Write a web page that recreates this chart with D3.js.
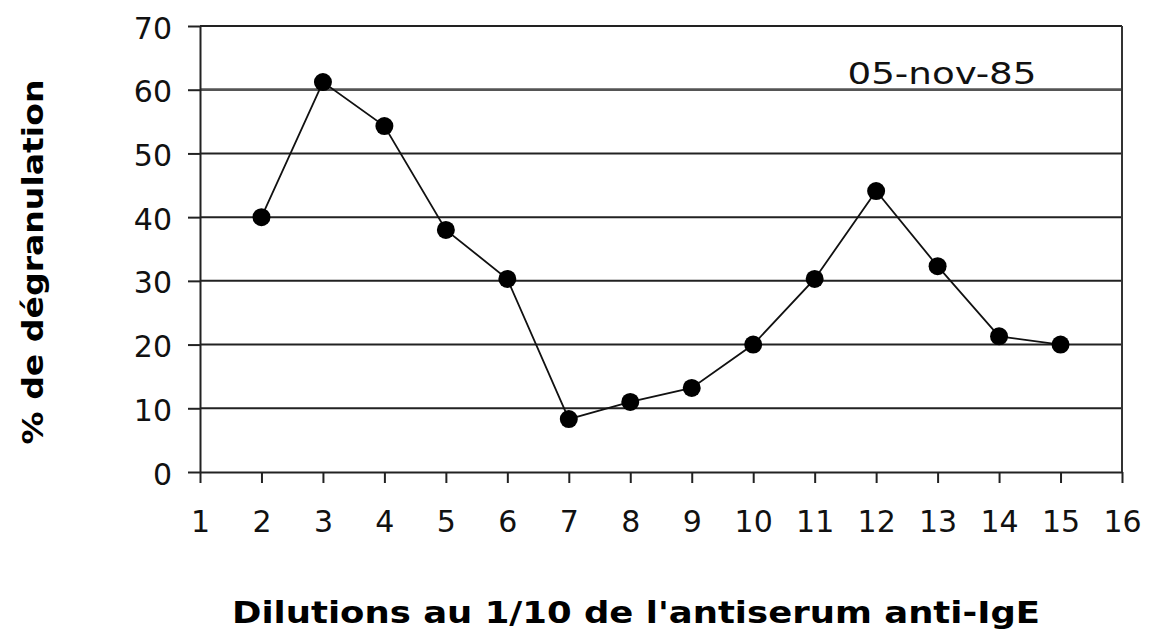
<!DOCTYPE html>
<html>
<head>
<meta charset="utf-8">
<script src="https://cdn.jsdelivr.net/npm/d3@7"></script>
<style>
body { margin: 0; background: #fff; }
text { font-family: "DejaVu Sans", Verdana, sans-serif; }
</style>
</head>
<body>
<div id="chart"></div>
<script>
// Data
var dilutions = [2, 3, 4, 5, 6, 7, 8, 9, 10, 11, 12, 13, 14, 15];
var degranulation = [40, 61.2, 54.3, 38, 30.3, 8.3, 11, 13.2, 20, 30.3, 44.1, 32.3, 21.3, 20];
var xTicks = [1, 2, 3, 4, 5, 6, 7, 8, 9, 10, 11, 12, 13, 14, 15, 16];
var yTicks = [0, 10, 20, 30, 40, 50, 60, 70];
var dateLabel = "05-nov-85";

//Define Margin
var margin = {left: 200, right: 27, top: 26, bottom: 165},
    width = 1149 - margin.left - margin.right,
    height = 637 - margin.top - margin.bottom;

var svg = d3.select("div#chart")
    .append("svg")
    .attr("width", 1149)
    .attr("height", 637)
    .append("g")
    .attr("transform", "translate(" + margin.left + "," + margin.top + ")");

//Define Scales
var xScale = d3.scaleLinear().domain([1, 16]).range([0, width]);
var yScale = d3.scaleLinear().domain([0, 70]).range([height, 0]);

//Gridlines
svg.selectAll(".grid")
    .data(yTicks.filter(function(d) { return d > 0; }))
    .enter().append("line")
    .attr("class", "grid")
    .attr("x1", 0)
    .attr("x2", width)
    .attr("y1", function(d) { return yScale(d); })
    .attr("y2", function(d) { return yScale(d); })
    .attr("stroke", function(d) { return d == 60 ? "#555" : "#222"; })
    .attr("stroke-width", function(d) { return d == 60 ? 2.8 : 2; });

// right border
svg.append("line")
    .attr("x1", width).attr("x2", width)
    .attr("y1", 0).attr("y2", height)
    .attr("stroke", "#333").attr("stroke-width", 2);

//Axes
var xAxis = d3.axisBottom(xScale).tickValues(xTicks).tickSize(11).tickSizeOuter(0).tickPadding(28);
var yAxis = d3.axisLeft(yScale).tickValues(yTicks).tickSize(12).tickSizeOuter(0).tickPadding(16);

var gx = svg.append("g")
    .attr("transform", "translate(0," + height + ")")
    .call(xAxis);
gx.selectAll("line, path").attr("stroke", "#222").attr("stroke-width", 2);
gx.selectAll("text").attr("font-size", "30px").attr("fill", "#111")
    .attr("font-family", "'DejaVu Sans', Verdana, sans-serif");

var gy = svg.append("g").call(yAxis);
gy.selectAll("line, path").attr("stroke", "#222").attr("stroke-width", 2);
gy.selectAll("text").attr("font-size", "30px").attr("fill", "#111")
    .attr("dy", "0.4em")
    .attr("font-family", "'DejaVu Sans', Verdana, sans-serif");

//Line
var line = d3.line()
    .x(function(d, i) { return xScale(dilutions[i]); })
    .y(function(d) { return yScale(d); });

svg.append("path")
    .datum(degranulation)
    .attr("d", line)
    .attr("fill", "none")
    .attr("stroke", "#111")
    .attr("stroke-width", 1.8);

svg.selectAll(".dot")
    .data(degranulation)
    .enter().append("circle")
    .attr("class", "dot")
    .attr("cx", function(d, i) { return xScale(dilutions[i]); })
    .attr("cy", function(d) { return yScale(d); })
    .attr("r", 9)
    .attr("fill", "#000");

//Date label
svg.append("text")
    .attr("x", 942 - margin.left)
    .attr("y", 84 - margin.top)
    .attr("text-anchor", "middle")
    .attr("font-size", "31px")
    .attr("textLength", 189)
    .attr("lengthAdjust", "spacingAndGlyphs")
    .attr("fill", "#111")
    .text(dateLabel);

//Axis titles
svg.append("text")
    .attr("x", 636 - margin.left)
    .attr("y", 623 - margin.top)
    .attr("text-anchor", "middle")
    .attr("font-size", "30px")
    .attr("font-weight", "bold")
    .attr("textLength", 808)
    .attr("lengthAdjust", "spacingAndGlyphs")
    .attr("fill", "#000")
    .text("Dilutions au 1/10 de l'antiserum anti-IgE");

svg.append("text")
    .attr("transform", "translate(" + (43 - margin.left) + "," + (262 - margin.top) + ") rotate(-90)")
    .attr("text-anchor", "middle")
    .attr("font-size", "28px")
    .attr("font-weight", "bold")
    .attr("textLength", 365)
    .attr("lengthAdjust", "spacingAndGlyphs")
    .attr("fill", "#000")
    .text("% de dégranulation");
</script>
</body>
</html>
